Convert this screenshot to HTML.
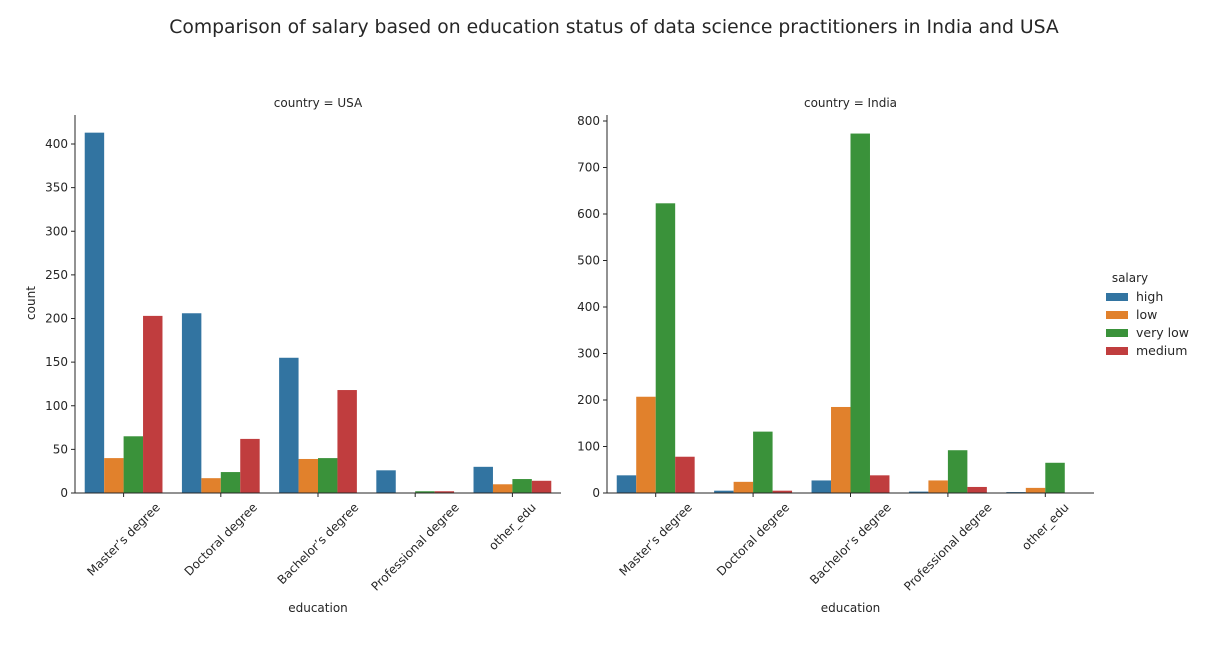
<!DOCTYPE html>
<html><head><meta charset="utf-8"><style>
body{margin:0;background:#fff;font-family:"Liberation Sans",sans-serif}
svg text{font-family:"DejaVu Sans","Liberation Sans",sans-serif;fill:#262626}
</style></head><body>
<svg id="c" width="1206" height="640"></svg>
<script>
const categories=["Master’s degree","Doctoral degree","Bachelor’s degree","Professional degree","other_edu"];
const seriesNames=["high","low","very low","medium"];
const colors=["#3274a1","#e1812c","#3a923a","#c03d3e"];
const usaHigh=[413,206,155,26,30];
const usaLow=[40,17,39,0,10];
const usaVeryLow=[65,24,40,2,16];
const usaMedium=[203,62,118,2,14];
const indHigh=[38,5,27,3,2];
const indLow=[207,24,185,27,11];
const indVeryLow=[623,132,773,92,65];
const indMedium=[78,5,38,13,0];
const usaTicks=[0,50,100,150,200,250,300,350,400];
const indTicks=[0,100,200,300,400,500,600,700,800];
const svg=document.getElementById('c');
const NS='http://www.w3.org/2000/svg';
function el(t,a,txt){const e=document.createElementNS(NS,t);for(const k in a)e.setAttribute(k,a[k]);if(txt!==undefined)e.textContent=txt;svg.appendChild(e);return e;}
let t=el('text',{x:614,y:33,'font-size':18.8,'text-anchor':'middle'},'Comparison of salary based on education status of data science practitioners in India and USA');


function panel(x0,x1,yTop,yMax,series,ticks,title,name,ylabel){
  const y0=493;
  const ys=v=>y0-(v/yMax)*(y0-yTop);
  const cw=(x1-x0)/categories.length, bw=cw*0.8/4;
  series.forEach((s,si)=>s.forEach((v,ci)=>{
    const x=x0+ci*cw+cw*0.1+si*bw;
    const r=el('rect',{x:x,y:ys(v),width:bw,height:y0-ys(v),fill:colors[si]});
    
    
  }));
  let l=el('line',{x1:x0,y1:115,x2:x0,y2:y0,stroke:'#262626','stroke-width':1});
  
  
  l=el('line',{x1:x0,y1:y0,x2:x1,y2:y0,stroke:'#262626','stroke-width':1});
  
  
  ticks.forEach(v=>{
    el('line',{x1:x0-4,y1:ys(v),x2:x0,y2:ys(v),stroke:'#262626'});
    const tt=el('text',{x:x0-7,y:ys(v)+4,'font-size':12,'text-anchor':'end'},v);
    
    
  });
  categories.forEach((c,ci)=>{
    const cx=x0+ci*cw+cw/2;
    el('line',{x1:cx,y1:y0,x2:cx,y2:y0+4,stroke:'#262626'});
    const tt=el('text',{x:cx,y:0,'font-size':12,'text-anchor':'middle'},c);
    const L=tt.getComputedTextLength();
    const h=(L+12)*0.7071;
    const ty=y0+8+h/2;
    tt.setAttribute('y',ty+4);
    tt.setAttribute('transform',`rotate(-45 ${cx} ${ty})`);
    
    
  });
  let tt=el('text',{x:(x0+x1)/2,y:107,'font-size':12,'text-anchor':'middle'},title);
  
  
  tt=el('text',{x:(x0+x1)/2,y:612,'font-size':12,'text-anchor':'middle'},'education');
  
  
  if(ylabel){tt=el('text',{x:35,y:303,'font-size':12,'text-anchor':'middle',transform:'rotate(-90 35 303)'},'count');
  
  }
}
panel(75,561,144,400,[usaHigh,usaLow,usaVeryLow,usaMedium],usaTicks,'country = USA','usa',true);
panel(607,1094,121,800,[indHigh,indLow,indVeryLow,indMedium],indTicks,'country = India','india',false);
t=el('text',{x:1130,y:282,'font-size':12,'text-anchor':'middle'},'salary');


seriesNames.forEach((s,i)=>{
  const y=297+i*18;
  const r=el('rect',{x:1106,y:y-4,width:22,height:8,fill:colors[i]});
  
  
  const tx=el('text',{x:1136,y:y+4,'font-size':12.5},s);
  
  
});
</script>
</body></html>
